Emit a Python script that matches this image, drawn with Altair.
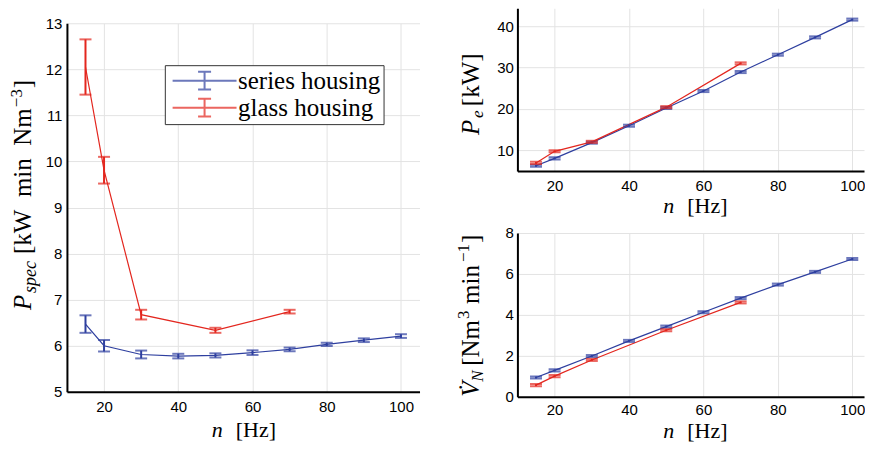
import altair as alt
import pandas as pd

# ---------------- data ----------------
freq_series = [15, 20, 30, 40, 50, 60, 70, 80, 90, 100]
freq_glass = [15, 20, 30, 50, 70]

pspec_series = [6.47, 6.00, 5.81, 5.775, 5.79, 5.85, 5.92, 6.03, 6.12, 6.21]
pspec_series_err = [0.19, 0.125, 0.085, 0.05, 0.045, 0.05, 0.04, 0.035, 0.04, 0.04]
pspec_glass = [12.05, 9.81, 6.675, 6.335, 6.74]
pspec_glass_err = [0.6, 0.29, 0.105, 0.055, 0.04]

pe_series = [6.2, 8.0, 11.8, 15.9, 20.2, 24.3, 28.9, 33.1, 37.3, 41.6]
pe_series_err = [0.25] * 10
pe_glass = [6.9, 9.7, 12.0, 20.4, 31.0]
pe_glass_err = [0.25] * 5

vn_series = [0.94, 1.29, 1.99, 2.73, 3.43, 4.13, 4.82, 5.48, 6.10, 6.73]
vn_series_err = [0.05] * 10
vn_glass = [0.57, 1.01, 1.80, 3.25, 4.61]
vn_glass_err = [0.05] * 5

SERIES = "series housing"
GLASS = "glass housing"
BLUE = "#2e3f9f"
RED = "#e3261e"
SERIF = "Liberation Serif"


def frame(xs, ys, es, name):
    return pd.DataFrame({
        "n": xs, "v": ys,
        "lo": [y - e for y, e in zip(ys, es)],
        "hi": [y + e for y, e in zip(ys, es)],
        "series": name,
    })


ONE = pd.DataFrame({"k": [0]})


def txt(s, x, y, size, italic=False, angle=None):
    kw = dict(text=s, font=SERIF, fontSize=size, align="left",
              baseline="alphabetic", color="black")
    if italic:
        kw["fontStyle"] = "italic"
    if angle is not None:
        kw["angle"] = angle
    return alt.Chart(ONE).mark_text(**kw).encode(x=alt.value(x), y=alt.value(y))


def panel(df, xdom, ydom, yvals, w, h, texts, legend=None, ylabpad=4, xlabpad=7):
    color = alt.Color("series:N",
                      scale=alt.Scale(domain=[SERIES, GLASS], range=[BLUE, RED]),
                      legend=legend)
    x = alt.X("n:Q", scale=alt.Scale(domain=xdom, nice=False, zero=False),
              axis=alt.Axis(values=[20, 40, 60, 80, 100], title=None, labelPadding=xlabpad))
    y = alt.Y("v:Q", scale=alt.Scale(domain=ydom, nice=False, zero=False),
              axis=alt.Axis(values=yvals, title=None, labelPadding=ylabpad))
    base = alt.Chart(df)
    line = base.mark_line(strokeWidth=1.2).encode(x=x, y=y, color=color)
    rules = base.mark_rule(strokeWidth=2).encode(x="n:Q", y="lo:Q", y2="hi:Q", color=color)
    caps = base.transform_fold(["lo", "hi"], as_=["end", "cap"]).mark_tick(
        orient="horizontal", size=12, thickness=2
    ).encode(x="n:Q", y="cap:Q", color=color)
    return alt.layer(line, rules, caps, *texts).properties(width=w, height=h)


# ---------------- left panel ----------------
df_left = pd.concat([frame(freq_series, pspec_series, pspec_series_err, SERIES),
                     frame(freq_glass, pspec_glass, pspec_glass_err, GLASS)])

PATH = "M-3,0H3M0,-0.84V0.84M-0.61,-0.84H0.61M-0.61,0.84H0.61"
legend = alt.Legend(title=None, orient="none", legendX=98, legendY=57,
                    symbolType=PATH, symbolSize=455, symbolStrokeWidth=2,
                    symbolOffset=24.3, labelOffset=21,
                    labelFont=SERIF, labelFontSize=25, labelColor="black",
                    padding=3, rowPadding=0, strokeColor="#333333",
                    fillColor="white", symbolFillColor="transparent",
                    labelLimit=220)

EN = "\u2002"
left_texts = [
    txt("P", -36, 287, 25, italic=True, angle=270),
    txt("spec", -31, 270, 18, italic=True, angle=270),
    txt("[kW" + EN + "min" + EN + "Nm", -36, 231, 25, angle=270),
    txt("\u22123", -45, 84, 17, angle=270),
    txt("]", -36, 65, 25, angle=270),
    txt("n", 145, 414, 22, italic=True),
    txt("[Hz]", 169, 414, 22),
]
left = panel(df_left, [10, 105], [5, 13], [5, 6, 7, 8, 9, 10, 11, 12, 13],
             353, 369, left_texts, legend=legend, ylabpad=5, xlabpad=8)

spacer = alt.Chart(ONE).mark_point(opacity=0).properties(width=353, height=15)
left_col = alt.vconcat(spacer, left, spacing=0, bounds="flush")

# ---------------- top right ----------------
df_tr = pd.concat([frame(freq_series, pe_series, pe_series_err, SERIES),
                   frame(freq_glass, pe_glass, pe_glass_err, GLASS)])
tr_texts = [
    txt("P", -38, 127, 25, italic=True, angle=270),
    txt("e", -34, 110, 17, italic=True, angle=270),
    txt("[kW]", -38, 98, 25, angle=270),
    txt("n", 146, 205, 22, italic=True),
    txt("[Hz]", 170, 205, 22),
]
tr = panel(df_tr, [10, 103.15], [4.92, 44.35], [10, 20, 30, 40], 347, 163, tr_texts)

# ---------------- bottom right ----------------
df_br = pd.concat([frame(freq_series, vn_series, vn_series_err, SERIES),
                   frame(freq_glass, vn_glass, vn_glass_err, GLASS)])
br_texts = [
    txt("V\u0307", -38, 164, 25, italic=True, angle=270),
    txt("N", -34, 149, 17, italic=True, angle=270),
    txt("[Nm", -38, 133, 25, angle=270),
    txt("3", -48, 86, 17, angle=270),
    txt("min", -38, 71, 25, angle=270),
    txt("\u22121", -48, 29, 17, angle=270),
    txt("]", -38, 10, 25, angle=270),
    txt("n", 146, 205, 22, italic=True),
    txt("[Hz]", 170, 205, 22),
]
br = panel(df_br, [10, 103.15], [0, 8], [0, 2, 4, 6, 8], 347, 164, br_texts, xlabpad=6)

right_col = alt.vconcat(tr, br, spacing=62, bounds="flush")

chart = alt.hconcat(left_col, right_col, spacing=36).properties(
    padding=0
).configure_view(stroke=None).configure_axis(
    domainColor="black", domainWidth=2, gridColor="#e3e3e3", gridWidth=1,
    labelFont="Liberation Sans", labelFontSize=15, labelColor="black",
    ticks=False
)

chart.save("out.html", embed_options={"renderer": "svg", "actions": False})
